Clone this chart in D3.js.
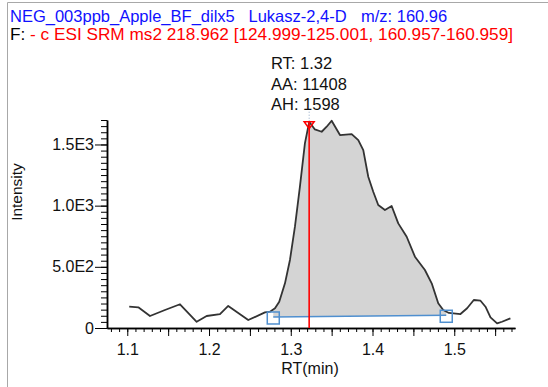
<!DOCTYPE html>
<html>
<head>
<meta charset="utf-8">
<script src="https://cdnjs.cloudflare.com/ajax/libs/d3/7.8.5/d3.min.js"></script>
<style>
  body { margin: 0; background: #fff; }
  svg text { font-family: "Liberation Sans", Arial, sans-serif; }
</style>
</head>
<body>
<div id="chart"></div>
<script>
// chromatogram trace (RT in min, intensity in counts)
var rt = [1.1024, 1.1135, 1.1278, 1.1461, 1.1645, 1.1849, 1.1971, 1.2134, 1.2235, 1.2480,
          1.2684, 1.2746, 1.2807, 1.2859, 1.2929, 1.2990, 1.3051, 1.3112, 1.3173, 1.3226,
          1.3295, 1.3378, 1.3439, 1.3500, 1.3602, 1.3745, 1.3826, 1.3887, 1.3948, 1.4009,
          1.4070, 1.4152, 1.4234, 1.4315, 1.4418, 1.4519, 1.4641, 1.4724, 1.4804, 1.4865,
          1.4934, 1.5076, 1.5157, 1.5239, 1.5321, 1.5382, 1.5443, 1.5524, 1.5584, 1.5687];
var intensity = [174, 169, 98, 147, 194, 51, 98, 114, 180, 65,
                 128, 133, 161, 215, 365, 556, 828, 1155, 1509, 1686,
                 1623, 1604, 1645, 1694, 1577, 1585, 1536, 1454, 1236, 1114,
                 1005, 964, 997, 855, 746, 583, 474, 365, 202, 147,
                 123, 114, 161, 229, 223, 174, 87, 38, 51, 79];

// integration baseline (start / end) and apex
var baseRT = [1.2786, 1.4902];
var baseInt = [90, 104];
var apexRT = 1.3225;
var apexInt = 1686;

var xLabelTicks = [1.1, 1.2, 1.3, 1.4, 1.5];
var yLabelTicks = [0, 500, 1000, 1500];
var yTickText = ["0", "5.0E2", "1.0E3", "1.5E3"];
var titleLine1 = ["NEG_003ppb_Apple_BF_dilx5", "Lukasz-2,4-D", "m/z: 160.96"];
var titleLine2 = ["F:", " - c ESI SRM ms2 218.962 [124.999-125.001, 160.957-160.959]"];
var peakInfo = ["RT: 1.32", "AA: 11408", "AH: 1598"];

var W = 548, H = 387;
var svg = d3.select("#chart").append("svg")
    .attr("width", W).attr("height", H);

// frame
svg.append("line").attr("x1", 7.5).attr("x2", 7.5).attr("y1", 2.5).attr("y2", H)
    .attr("stroke", "#a8a8a8");
svg.append("line").attr("x1", 7.5).attr("x2", W).attr("y1", 2.5).attr("y2", 2.5)
    .attr("stroke", "#a8a8a8");

// header
var t1 = svg.append("text").attr("y", 22).attr("font-size", 16.5).attr("fill", "#1010ff");
var t1x = [10, 248.5, 361];
titleLine1.forEach(function(s, i) {
  t1.append("tspan").attr("x", t1x[i]).text(s);
});
var t2 = svg.append("text").attr("x", 10).attr("y", 39.5).attr("font-size", 16.5)
    .attr("textLength", 503).attr("lengthAdjust", "spacingAndGlyphs");
t2.append("tspan").attr("fill", "#000").text(titleLine2[0]);
t2.append("tspan").attr("fill", "#ff0000").text(titleLine2[1]);

var x = d3.scaleLinear().domain([1.0752, 1.5743]).range([107, 515]);
var y = d3.scaleLinear().domain([0, 1700]).range([328, 120]);

// peak fill between trace and baseline
function traceAt(t) {
  for (var i = 1; i < rt.length; i++) {
    if (t <= rt[i]) {
      var f = (t - rt[i - 1]) / (rt[i] - rt[i - 1]);
      return intensity[i - 1] + f * (intensity[i] - intensity[i - 1]);
    }
  }
  return intensity[intensity.length - 1];
}
function baseAt(t) {
  var f = (t - baseRT[0]) / (baseRT[1] - baseRT[0]);
  return baseInt[0] + f * (baseInt[1] - baseInt[0]);
}
var peakT = [baseRT[0]];
rt.forEach(function(t) { if (t > baseRT[0] && t < baseRT[1]) peakT.push(t); });
peakT.push(baseRT[1]);

svg.append("path")
    .datum(peakT)
    .attr("fill", "#d4d4d4")
    .attr("d", d3.area()
        .x(function(t) { return x(t); })
        .y0(function(t) { return y(baseAt(t)); })
        .y1(function(t) { return y(traceAt(t)); }));

// baseline
svg.append("line")
    .attr("x1", x(baseRT[0])).attr("y1", y(baseInt[0]))
    .attr("x2", x(baseRT[1])).attr("y2", y(baseInt[1]))
    .attr("stroke", "#4f8fcf").attr("stroke-width", 1.6);

// trace
svg.append("path")
    .datum(d3.zip(rt, intensity))
    .attr("fill", "none")
    .attr("stroke", "#333")
    .attr("stroke-width", 1.8)
    .attr("stroke-linejoin", "round")
    .attr("d", d3.line().x(function(d) { return x(d[0]); }).y(function(d) { return y(d[1]); }));

// axes
var xMinor = d3.range(108, 158).map(function(d) { return d / 100; });
var xMajor = d3.range(110, 156, 5).map(function(d) { return d / 100; });
var yMinor = d3.range(0, 1701, 50);

var gx = svg.append("g").attr("transform", "translate(0,328)");
gx.call(d3.axisBottom(x).tickValues(xMinor).tickSize(4).tickSizeOuter(0).tickFormat(""));
gx.append("g").call(d3.axisBottom(x).tickValues(xMajor).tickSize(8).tickSizeOuter(0)
    .tickFormat(function(d) {
      return xLabelTicks.some(function(v) { return Math.abs(v - d) < 1e-6; }) ? d3.format(".1f")(d) : "";
    }));
gx.selectAll("text").attr("dy", null).attr("y", 27).attr("font-size", 16)
    .attr("font-family", "Liberation Sans, Arial, sans-serif").attr("fill", "#111");
gx.selectAll("path.domain").attr("stroke-width", 1.5);

var gy = svg.append("g").attr("transform", "translate(107,0)");
gy.call(d3.axisLeft(y).tickValues(yMinor).tickSize(6).tickSizeOuter(0).tickFormat(""));
gy.append("g").call(d3.axisLeft(y).tickValues(yLabelTicks).tickSize(12).tickSizeOuter(0)
    .tickFormat(function(d, i) { return yTickText[i]; }));
gy.selectAll("text").attr("x", -13).attr("font-size", 16)
    .attr("font-family", "Liberation Sans, Arial, sans-serif").attr("fill", "#111");
gy.selectAll("path.domain").attr("stroke-width", 1.5);

svg.append("text").attr("x", 310).attr("y", 374).attr("text-anchor", "middle")
    .attr("font-size", 16).attr("fill", "#111").text("RT(min)");
svg.append("text").attr("transform", "translate(21.5,192) rotate(-90)")
    .attr("text-anchor", "middle").attr("font-size", 15.5).attr("fill", "#111").text("Intensity");

// apex marker
var ax = x(apexRT), ay = y(apexInt);
svg.append("line").attr("x1", ax).attr("x2", ax).attr("y1", ay - 10).attr("y2", ay)
    .attr("stroke", "#8ea6c6").attr("stroke-dasharray", "1,2");
svg.append("line").attr("x1", ax).attr("x2", ax).attr("y1", ay).attr("y2", y(0))
    .attr("stroke", "#ff0000").attr("stroke-width", 1.6);
svg.append("path")
    .attr("d", "M" + (ax - 5) + "," + ay + "L" + (ax + 5) + "," + ay + "L" + ax + "," + (ay + 7) + "Z")
    .attr("fill", "none").attr("stroke", "#ff0000").attr("stroke-width", 1.5);

// baseline end markers
svg.selectAll("rect.base")
    .data(d3.zip(baseRT, baseInt))
    .enter().append("rect")
    .attr("class", "base")
    .attr("x", function(d) { return x(d[0]) - 6; })
    .attr("y", function(d) { return y(d[1]) - 5; })
    .attr("width", 12).attr("height", 12)
    .attr("fill", "none").attr("stroke", "#4f8fcf").attr("stroke-width", 1.5);

// peak info
svg.selectAll("text.info")
    .data(peakInfo)
    .enter().append("text")
    .attr("class", "info")
    .attr("x", 271)
    .attr("y", function(d, i) { return 69 + i * 20.5; })
    .attr("font-size", 16.5).attr("fill", "#111")
    .text(function(d) { return d; });
</script>
</body>
</html>
